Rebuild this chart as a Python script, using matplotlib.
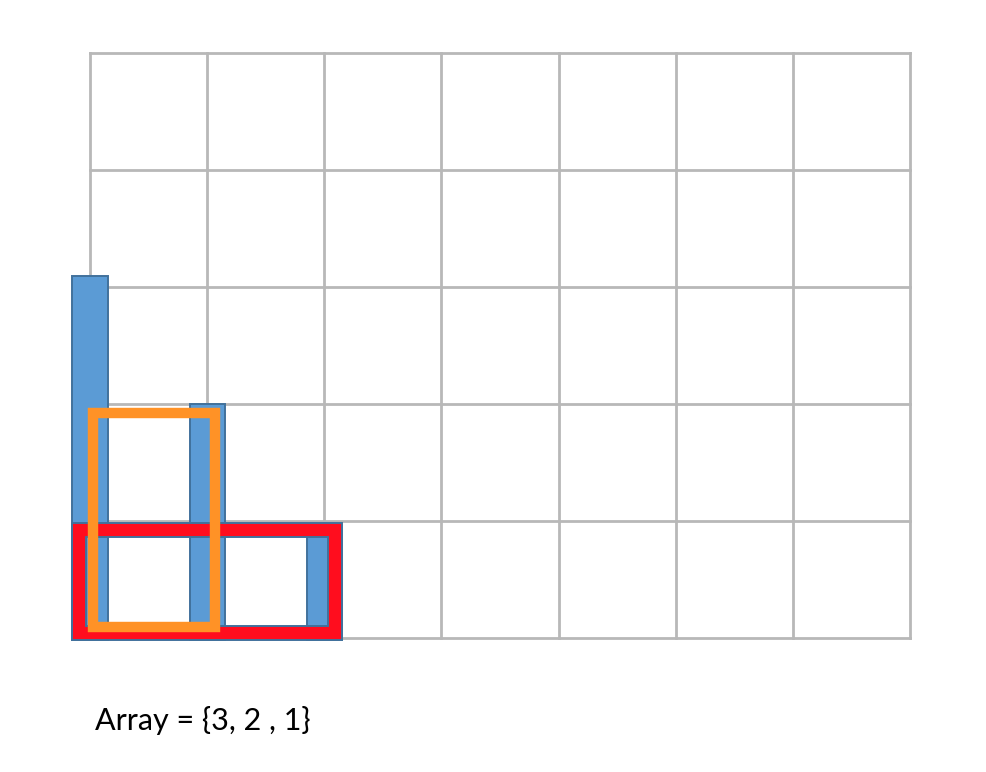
import matplotlib
matplotlib.use("Agg")
import matplotlib.pyplot as plt
from matplotlib.patches import Rectangle, PathPatch
from matplotlib.path import Path
import numpy as np

# data
array_values = [3, 2, 1]
bar_positions = [0, 1, 2]
bar_heights = [3.11, 2.02, 0.99]
# candidate rectangles: (first bar index, last bar index, height)
red_rect = (0, 2, 1)
orange_rect = (0, 1, 2)

BLUE = "#5B9BD5"
BLUE_EDGE = "#41719C"
RED = "#FF0D1E"
ORANGE = "#FF9226"
GRID = "#B8B8B8"

fig = plt.figure(figsize=(9.86, 7.72), dpi=100)
ax = fig.add_axes([90 / 986, (772 - 638) / 772, 820 / 986, 585 / 772])
ax.set_xlim(0, 7)
ax.set_ylim(0, 5)
for v in range(0, 8):
    ax.axvline(v, color=GRID, lw=2.0, zorder=1, clip_on=False)
for h in range(0, 6):
    ax.axhline(h, color=GRID, lw=2.0, zorder=1, clip_on=False)
ax.set_xticks([])
ax.set_yticks([])
for s in ax.spines.values():
    s.set_visible(False)

bw = 0.3
ax.bar(bar_positions, bar_heights, width=bw, bottom=-0.02, color=BLUE,
       edgecolor=BLUE_EDGE, linewidth=1.4, zorder=3, clip_on=False)

# red frame (with blue outline)
i0, i1, hh = red_rect
x0 = bar_positions[i0] - bw / 2
x1 = bar_positions[i1] + bw / 2
y0 = -0.02
y1 = hh - 0.02
t = 0.12
outer = [(x0, y0), (x1, y0), (x1, y1), (x0, y1), (x0, y0)]
inner = [(x0 + t, y0 + t), (x0 + t, y1 - t), (x1 - t, y1 - t), (x1 - t, y0 + t), (x0 + t, y0 + t)]
verts = outer + inner
codes = [Path.MOVETO] + [Path.LINETO] * 3 + [Path.CLOSEPOLY] + [Path.MOVETO] + [Path.LINETO] * 3 + [Path.CLOSEPOLY]
ax.add_patch(PathPatch(Path(verts, codes), facecolor=RED, edgecolor=BLUE_EDGE,
                       linewidth=1.4, zorder=4, clip_on=False))

# orange frame
j0, j1, oh = orange_rect
ox0 = bar_positions[j0] + 0.025
ox1 = bar_positions[j1] + bw / 2 - 0.085
oy0 = 0.095
oy1 = oh - 0.075
ax.add_patch(Rectangle((ox0, oy0), ox1 - ox0, oy1 - oy0, fill=False,
                       edgecolor=ORANGE, linewidth=7.5, joinstyle="miter",
                       zorder=5, clip_on=False))

label = "Array = {" + ", ".join([str(array_values[0]), str(array_values[1]) + " ", str(array_values[2])]) + "}"
fig.text(95 / 986, 1 - 730 / 772, label, fontsize=22, family=["Lato", "DejaVu Sans"],
         color="black", ha="left", va="baseline")

fig.savefig("out.png", dpi=100)
